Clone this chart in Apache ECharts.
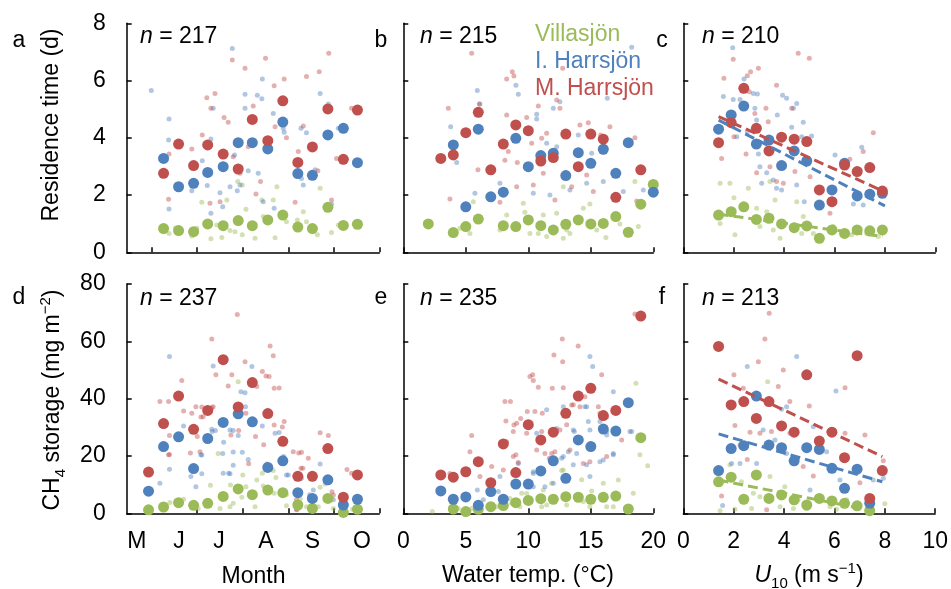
<!DOCTYPE html>
<html>
<head>
<meta charset="utf-8">
<script src="https://cdn.jsdelivr.net/npm/echarts@6/dist/echarts.min.js"></script>
<style>
  html, body { margin: 0; padding: 0; background: #fff; }
  #chart { width: 951px; height: 589px; }
</style>
</head>
<body>
<div id="chart"></div>
<script>
// ---- axis values ----
const monthTicks = [6, 7, 8, 9, 10, 11]
const monthNames = ['M', 'J', 'J', 'A', 'S', 'O']
const monthNamePos = [5.67, 6.6, 7.48, 8.51, 9.53, 10.62]

// bin centres
const monthBins = [5.93, 6.26, 6.59, 6.92, 7.23, 7.57, 7.90, 8.21, 8.55, 8.88, 9.21, 9.53, 9.87, 10.21, 10.52]
const windBins = [1.4, 1.9, 2.4, 2.9, 3.4, 3.9, 4.4, 4.9, 5.4, 5.9, 6.4, 6.9, 7.4, 7.9]

// ---- a: residence time vs month (bin means, from 2nd bin) ----
const aVil = [0.83, 0.76, 0.72, 0.99, 0.93, 1.11, 0.93, 1.13, 1.30, 0.88, 0.83, 1.57, 0.94, 0.98]
const aIHa = [3.28, 2.29, 2.41, 2.79, 2.99, 3.83, 3.83, 3.61, 4.55, 2.75, 2.69, 4.10, 4.33, 3.13]
const aMHa = [2.76, 3.78, 3.03, 3.75, 3.43, 2.91, 4.64, 3.90, 5.29, 3.14, 3.68, 5.01, 3.25, 4.97]
const aVilRaw = [[6.22, 0.9], [6.38, 0.66], [6.52, 0.85], [6.88, 0.57], [6.99, 0.84], [7.10, 1.75], [7.30, 0.47], [7.43, 0.95], [7.54, 0.52], [7.65, 1.83], [7.72, 0.76], [7.83, 0.72], [7.89, 2.47], [7.99, 2.35], [7.99, 0.61], [8.07, 1.50], [8.27, 0.49], [8.42, 1.83], [8.45, 1.25], [8.67, 1.83], [8.71, 0.51], [8.75, 2.29], [8.96, 1.07], [9.20, 1.13], [9.33, 1.42], [9.40, 1.07], [9.64, 0.61], [9.70, 2.24], [9.95, 0.69], [10.1, 0.95], [10.45, 1.0]]
const aIHaRaw = [[5.99, 5.65], [6.38, 4.66], [6.37, 3.92], [6.38, 1.51], [6.88, 2.15], [7.11, 3.2], [7.30, 3.96], [7.35, 5.03], [7.22, 2.33], [7.30, 1.36], [7.50, 2.08], [7.56, 1.59], [7.77, 7.12], [7.72, 2.29], [7.82, 3.40], [7.88, 2.15], [7.94, 2.35], [8.05, 5.52], [8.05, 5.03], [8.12, 2.85], [8.34, 2.76], [8.32, 5.49], [8.42, 5.36], [8.43, 6.05], [8.45, 1.77], [8.69, 1.54], [8.67, 4.85], [8.89, 4.33], [8.91, 4.19], [9.28, 4.33], [9.29, 2.58], [9.40, 4.18], [9.33, 2.35], [9.59, 2.88], [9.70, 5.55], [9.88, 5.18], [9.95, 1.68], [10.1, 4.33]]
const aMHaRaw = [[6.38, 3.43], [6.37, 1.85], [6.88, 3.61], [7.11, 4.10], [7.21, 5.40], [7.39, 5.55], [7.30, 5.03], [7.59, 4.71], [7.68, 4.54], [7.77, 6.72], [7.79, 3.34], [8.05, 6.43], [8.12, 3.69], [8.23, 5.11], [8.29, 2.04], [8.39, 2.47], [8.50, 6.78], [8.56, 3.98], [8.69, 5.82], [8.71, 4.39], [8.91, 6.05], [8.96, 4.0], [9.15, 1.75], [9.22, 3.52], [9.33, 4.41], [9.40, 6.14], [9.68, 6.31], [9.89, 6.95], [9.65, 2.85], [9.95, 1.83], [10.06, 3.28], [10.39, 5.03], [7.50, 1.77], [7.28, 1.71], [7.94, 2.76]]

// ---- b: residence time vs water temp ----
const bVil = [[2, 0.99], [4, 0.69], [5, 0.90], [6, 1.16], [8, 0.93], [9, 0.90], [10, 1.13], [11, 0.93], [12, 0.78], [13, 0.98], [14, 1.13], [15, 0.99], [16, 1.01], [17, 1.25], [18, 0.70], [19, 1.68], [20, 2.37]]
const bIHa = [[4, 3.75], [5, 1.59], [6, 4.30], [7, 1.94], [8, 2.10], [9, 3.98], [10, 2.99], [11, 3.38], [12, 3.46], [13, 2.68], [14, 3.48], [15, 3.11], [16, 3.60], [17, 2.76], [18, 3.83], [20, 2.10]]
const bMHa = [[3, 3.28], [4, 3.40], [5, 4.18], [6, 4.89], [7, 2.88], [8, 3.78], [9, 4.45], [10, 4.25], [11, 3.19], [12, 3.31], [13, 4.13], [14, 2.99], [15, 4.13], [16, 3.95], [17, 1.92], [19, 2.88]]
const bVilRaw = [[4.53, 0.84], [5.33, 0.66], [5.6, 1.77], [7.73, 0.78], [8.27, 1.30], [9.6, 1.71], [9.73, 1.40], [10.13, 0.66], [10.8, 0.66], [11.2, 1.30], [11.47, 0.55], [12.27, 1.36], [12.8, 2.29], [13.07, 0.78], [13.33, 0.66], [14.4, 1.54], [14.93, 1.69], [15.47, 0.78], [16.21, 0.52], [17.33, 0.99], [18.53, 2.47], [18.8, 0.90], [12.8, 0.49]]
const bIHaRaw = [[5.92, 5.65], [6.13, 5.18], [3.79, 4.39], [4.27, 3.14], [5.73, 2.06], [7.73, 2.41], [9.01, 5.84], [9.2, 5.52], [10.67, 4.82], [10.67, 4.66], [12.0, 5.03], [12.53, 5.26], [14.0, 4.10], [16.32, 5.38], [18.27, 7.16], [15.07, 3.46], [17.6, 2.12], [19.2, 2.18], [13.33, 2.18], [10.4, 2.06], [11.73, 2.0], [14.67, 2.41], [16.0, 2.47], [12.27, 3.69], [11.47, 3.81]]
const bMHaRaw = [[5.47, 6.95], [3.6, 5.03], [3.73, 1.86], [6.08, 5.18], [5.97, 2.88], [8.27, 6.05], [8.72, 6.31], [8.85, 6.16], [8.27, 4.80], [8.40, 3.52], [9.87, 4.71], [10.27, 3.81], [10.8, 5.11], [11.07, 3.98], [11.47, 4.16], [12.75, 6.43], [12.27, 5.32], [12.53, 5.03], [14.13, 4.45], [14.8, 4.53], [15.79, 4.10], [16.53, 4.39], [18.53, 4.0], [10.4, 2.35], [9.07, 2.29], [11.2, 2.76], [12.13, 1.83], [13.47, 2.29], [15.2, 2.12], [18.67, 1.79], [7.73, 1.75], [8.13, 3.22], [9.12, 3.14], [14.67, 2.70]]

// ---- c: residence time vs U10 ----
const cVil = [1.30, 1.42, 1.59, 1.15, 1.19, 0.99, 0.86, 0.92, 0.49, 0.78, 0.66, 0.78, 0.75, 0.78]
const cIHa = [4.30, 4.80, 5.11, 3.78, 3.92, 3.03, 3.54, 3.19, 1.65, 2.18, 3.11, 1.97, 2.03, 2.06]
const cMHa = [3.83, 4.53, 5.73, 4.33, 3.54, 4.02, 3.95, 3.87, 2.18, 1.77, 3.05, 2.82, 2.96, 2.14]
const cFitVil = [[1.4, 1.33], [7.9, 0.55]]
const cFitIHa = [[1.4, 4.62], [8.0, 1.62]]
const cFitMHa = [[1.4, 4.74], [7.9, 2.15]]
const cVilRaw = [[1.46, 2.41], [1.85, 2.41], [2.01, 1.91], [2.58, 2.24], [2.91, 1.54], [3.31, 1.42], [3.44, 2.47], [3.64, 1.83], [2.05, 0.61], [1.46, 1.01], [3.04, 0.90], [3.57, 0.78], [3.84, 0.49], [4.50, 1.77], [4.76, 1.25], [4.70, 0.66], [5.16, 0.66], [5.95, 0.90], [6.68, 0.61], [7.28, 0.66], [7.74, 0.55]]
const cIHaRaw = [[1.96, 7.15], [1.59, 5.44], [1.98, 5.34], [2.25, 5.34], [2.41, 6.05], [2.78, 5.55], [2.94, 5.53], [2.84, 5.03], [2.91, 4.62], [2.98, 3.43], [3.31, 2.78], [3.11, 2.41], [3.57, 2.53], [3.73, 4.80], [3.94, 5.49], [4.10, 5.38], [4.30, 4.37], [4.37, 5.03], [4.50, 5.20], [4.70, 4.04], [4.76, 4.54], [5.09, 4.06], [4.50, 2.35], [4.80, 1.77], [6.02, 3.40], [7.08, 3.67], [6.75, 1.69], [7.14, 1.65], [2.12, 4.04], [2.54, 4.21], [3.70, 2.24], [3.90, 2.18], [3.04, 2.99]]
const cMHaRaw = [[1.61, 6.08], [1.98, 6.74], [2.54, 6.17], [2.67, 6.31], [2.98, 6.43], [2.62, 5.61], [2.84, 4.85], [3.28, 5.03], [3.37, 4.56], [3.70, 5.84], [4.30, 5.03], [4.56, 6.95], [5.00, 6.78], [2.49, 3.43], [2.91, 2.78], [1.52, 3.28], [2.01, 4.04], [3.70, 2.47], [3.97, 2.41], [4.43, 2.82], [5.03, 2.64], [5.82, 1.36], [6.61, 3.25], [7.14, 3.52], [7.54, 4.18], [7.01, 2.88], [3.44, 2.99]]

// ---- d: CH4 storage vs month ----
const dVil = [1.2, 2.2, 3.7, 2.8, 3.5, 5.9, 8.5, 6.5, 8.1, 7.2, 2.9, 1.7, 5.2, 0.3, 1.4]
const dIHa = [7.7, 23.3, 26.7, 15.6, 26.1, 31.7, 34.7, 31.9, 16.0, 18.3, 7.2, 5.2, 11.7, 2.9, 4.9]
const dMHa = [14.4, 31.3, 40.9, 29.3, 35.9, 53.6, 37.1, 45.6, 34.8, 25.1, 12.9, 12.9, 22.6, 5.6, 13.4]
const dVilRaw = [[6.40, 3.8], [6.70, 4.9], [7.02, 1.7], [7.24, 4.4], [7.46, 20.9], [7.50, 1.7], [7.72, 2.3], [7.79, 3.5], [7.90, 45.9], [7.98, 5.6], [8.07, 9.3], [8.27, 2.3], [8.31, 11.6], [8.45, 9.5], [8.67, 14.9], [8.69, 7.0], [8.96, 2.6], [9.26, 5.2], [9.40, 2.3], [9.66, 2.3], [9.70, 9.1], [9.99, 1.7], [10.41, 1.4], [7.29, 9.8], [7.73, 9.9], [8.0, 13.4], [8.43, 14.0], [8.73, 12.5], [8.96, 6.6], [9.47, 5.5], [9.81, 10.2]]
const dIHaRaw = [[6.39, 54.7], [6.70, 30.5], [6.39, 15.4], [6.18, 10.5], [6.86, 12.8], [7.08, 20.4], [7.33, 28.5], [7.35, 51.4], [7.72, 29.1], [7.79, 21.4], [7.96, 42.4], [8.05, 42.1], [8.06, 37.2], [8.12, 18.8], [8.20, 51.2], [8.53, 17.2], [8.71, 27.9], [8.96, 13.4], [9.29, 12.2], [9.70, 17.2], [9.55, 8.1], [9.99, 4.7], [7.57, 14.0], [7.69, 14.0], [7.32, 29.3], [6.97, 9.3], [7.10, 13.8], [7.10, 20.3], [7.40, 28.9], [7.58, 24.8], [7.79, 28.9], [7.90, 27.1], [7.56, 20.9], [7.79, 16.8], [7.72, 13.8], [7.99, 21.3], [8.43, 30.5], [8.80, 28.2], [8.90, 19.8], [9.0, 13.4], [9.47, 6.5]]
const dMHaRaw = [[6.18, 39.0], [6.37, 39.0], [6.66, 46.3], [6.70, 35.7], [6.88, 34.9], [6.97, 37.2], [7.13, 33.7], [7.32, 60.8], [7.35, 37.2], [7.41, 48.3], [7.68, 44.4], [7.76, 48.3], [7.88, 69.4], [8.05, 52.9], [8.07, 34.9], [8.31, 44.2], [8.51, 47.9], [8.60, 58.4], [8.67, 55.0], [8.69, 43.6], [8.69, 30.8], [8.91, 32.0], [9.11, 21.5], [9.29, 21.3], [9.44, 19.2], [9.70, 28.1], [9.88, 27.1], [10.39, 14.0], [6.37, 20.4], [7.06, 21.5], [7.74, 27.3], [9.32, 15.7], [9.18, 4.7], [9.99, 6.4], [9.18, 1.2], [7.10, 37.1], [7.32, 36.8], [7.08, 33.6], [8.43, 49.5], [8.58, 47.7], [8.80, 43.7], [6.39, 27.1], [6.85, 21.0], [7.0, 26.8], [7.91, 28.9], [8.13, 17.3], [8.28, 26.8], [8.46, 23.9], [8.87, 30.1], [9.23, 21.0], [9.28, 15.7], [9.26, 12.6], [10.29, 15.3], [9.96, 7.5], [9.19, 1.4], [6.39, 20.5]]

// ---- e: CH4 storage vs water temp ----
const eVil = [[4, 1.5], [5, 0.6], [6, 1.4], [7, 2.3], [8, 2.7], [9, 3.7], [10, 4.5], [11, 5.1], [12, 4.9], [13, 5.8], [14, 5.6], [15, 4.9], [16, 5.6], [17, 6.0], [18, 1.5], [19, 26.4]]
const eIHa = [[3, 7.8], [4, 4.9], [5, 5.7], [6, 2.8], [7, 7.6], [8, 4.9], [9, 10.2], [10, 10.2], [11, 14.8], [12, 18.3], [13, 12.2], [14, 25.6], [15, 23.3], [16, 29.4], [17, 28.7], [18, 38.6]]
const eMHa = [[3, 13.4], [4, 12.6], [5, 14.5], [6, 18.0], [7, 10.7], [8, 24.2], [9, 14.2], [10, 30.9], [11, 25.6], [12, 28.3], [13, 34.9], [14, 40.9], [15, 43.6], [16, 34.1], [17, 35.9], [19, 68.8]]
const eVilRaw = [[2.32, 0.6], [4.4, 1.7], [5.47, 1.7], [8.67, 3.5], [9.47, 7.0], [11.2, 8.1], [11.07, 2.3], [11.87, 10.5], [12.8, 15.1], [14.4, 4.1], [16.27, 2.3], [17.2, 11.6], [18.4, 7.0], [18.61, 45.4], [18.93, 20.4], [19.55, 16.6], [14.93, 2.3], [16.0, 10.5], [14.27, 11.7], [15.07, 7.8], [12.67, 14.9], [11.47, 2.9], [9.87, 6.9], [9.33, 2.3], [8.53, 5.2], [7.47, 2.3], [4.93, 1.5], [13.07, 2.9], [16.8, 2.3]]
const eIHaRaw = [[5.92, 8.1], [9.2, 17.4], [10.4, 14.5], [10.67, 27.9], [11.47, 36.1], [12.8, 37.2], [13.68, 28.5], [14.67, 37.2], [14.93, 54.7], [15.15, 51.2], [16.27, 28.5], [16.8, 42.4], [16.8, 20.9], [18.27, 28.5], [13.87, 20.9], [14.93, 12.8], [16.0, 18.6], [10.4, 9.3], [7.73, 12.8], [12.8, 19.8], [12.27, 29.6], [13.6, 29.1], [14.8, 32.0], [14.93, 29.1], [15.73, 32.0], [16.27, 27.3], [18.13, 28.5], [15.2, 24.0], [13.2, 21.5], [12.67, 19.2], [13.6, 16.9], [14.67, 16.9], [15.73, 18.0], [16.8, 20.4], [11.33, 9.3], [12.0, 10.5], [10.4, 13.9], [7.6, 7.6], [6.4, 4.7], [14.53, 37.2]]
const eMHaRaw = [[5.47, 27.1], [5.33, 21.5], [8.13, 39.0], [8.21, 32.2], [8.85, 30.8], [9.01, 20.4], [9.39, 33.1], [9.87, 27.9], [10.13, 47.7], [10.35, 48.3], [10.4, 46.3], [11.12, 34.9], [11.33, 20.9], [11.92, 43.6], [12.8, 43.8], [12.72, 60.8], [12.05, 55.2], [12.75, 52.9], [13.47, 37.8], [13.99, 58.4], [14.53, 40.7], [14.93, 18.0], [15.6, 37.2], [15.87, 48.3], [17.47, 25.6], [18.53, 69.5], [7.07, 16.3], [10.67, 22.1], [11.07, 28.5], [13.33, 22.1], [14.4, 17.4], [16.27, 19.8], [10.8, 44.0], [9.92, 35.5], [10.53, 35.5], [9.07, 31.4], [8.8, 28.5], [8.27, 25.0], [8.8, 19.8], [9.2, 17.7], [8.0, 15.1], [6.13, 12.8], [3.73, 13.9], [11.87, 20.9], [11.68, 19.2], [12.13, 21.5], [12.53, 29.1], [13.07, 30.9], [13.6, 37.9], [14.13, 37.2], [15.73, 34.9], [16.27, 33.7], [8.57, 39.0]]

// ---- f: CH4 storage vs U10 ----
const fVil = [11.0, 12.6, 4.9, 13.4, 5.2, 6.4, 4.7, 2.9, 5.2, 4.3, 3.5, 2.6, 0.9]
const fIHa = [14.9, 22.6, 23.6, 40.9, 23.8, 22.9, 18.3, 22.9, 22.3, 15.7, 8.7, 15.4, 3.5]
const fMHa = [58.2, 37.8, 39.0, 33.1, 39.0, 30.5, 28.3, 48.3, 25.2, 28.3, 19.4, 55.0, 5.2, 14.9]
const fFitVil = [[1.4, 11.6], [7.5, 0.9]]
const fFitIHa = [[1.4, 27.7], [7.9, 11.0]]
const fFitMHa = [[1.4, 46.8], [7.9, 19.8]]
const fVilRaw = [[3.35, 45.9], [1.85, 16.9], [2.31, 11.0], [3.44, 12.8], [4.03, 9.3], [2.78, 7.0], [3.04, 5.8], [4.56, 4.7], [5.82, 2.3], [6.08, 1.4], [6.48, 4.7], [1.46, 0.9], [2.05, 1.4], [3.84, 2.3], [4.37, 1.7], [4.89, 1.7], [8.0, 3.3], [2.71, 1.7]]
const fIHaRaw = [[2.54, 51.2], [4.50, 54.7], [6.06, 42.7], [4.10, 37.2], [3.90, 36.3], [1.92, 17.4], [2.25, 17.4], [2.91, 17.4], [3.17, 29.1], [3.64, 25.6], [4.10, 20.9], [5.16, 30.2], [5.69, 21.5], [7.54, 11.6], [7.94, 12.2], [1.56, 2.7], [2.98, 12.8], [5.03, 8.1], [6.22, 11.6]]
const fMHaRaw = [[3.41, 69.8], [3.24, 60.8], [2.01, 48.3], [2.98, 52.9], [3.97, 50.0], [3.77, 44.2], [2.38, 43.6], [4.23, 39.0], [5.0, 37.4], [6.42, 43.8], [7.21, 27.3], [2.05, 30.6], [2.65, 28.3], [3.04, 27.9], [3.5, 28.5], [4.23, 27.9], [6.42, 27.9], [4.76, 16.3], [5.16, 13.0], [7.01, 10.7], [7.94, 18.3], [1.52, 6.0], [3.31, 1.2], [2.54, 18.8], [2.25, 23.8]]

const nLabels = ['217', '215', '210', '237', '235', '213']
const panelLetters = ['a', 'b', 'c', 'd', 'e', 'f']
const lakeNames = ['Villasjön', 'I. Harrsjön', 'M. Harrsjön']

// ---- styling ----
const FONT = "'Liberation Sans', Arial, Helvetica, sans-serif"
const FS = 23
const GREEN = '#9BBB59'
const BLUE = '#4F81BD'
const RED = '#C0504D'

const zip = (xs, ys) => ys.map((y, i) => [xs[i], y])

const grids = [
  { left: 126.7, top: 23.3, width: 252.6, height: 229 },
  { left: 403.3, top: 23.3, width: 250, height: 229 },
  { left: 683.3, top: 23.3, width: 252, height: 229 },
  { left: 126.7, top: 284, width: 252.6, height: 229.3 },
  { left: 403.3, top: 284, width: 250, height: 229.3 },
  { left: 683.3, top: 284, width: 252, height: 229.3 }
]

const lineStyle = { color: '#000', width: 1.5 }

function xAxisFor (i, kind, showLabel) {
  const axis = {
    type: 'value',
    gridIndex: i,
    axisLine: { show: true, onZero: false, lineStyle },
    axisTick: { show: true, inside: true, length: 5, lineStyle },
    splitLine: { show: false },
    axisLabel: { show: showLabel, color: '#000', fontSize: FS, fontFamily: FONT, margin: 17 }
  }
  if (kind === 'month') {
    axis.min = 5.45
    axis.max = 11
    axis.axisTick.customValues = monthTicks
    axis.axisLabel.customValues = monthNamePos
    axis.axisLabel.formatter = (v) => {
      let best = 0
      monthNamePos.forEach((p, k) => { if (Math.abs(p - v) < Math.abs(monthNamePos[best] - v)) best = k })
      return monthNames[best]
    }
  } else if (kind === 'temp') {
    axis.min = 0
    axis.max = 20
    axis.interval = 5
  } else {
    axis.min = 0
    axis.max = 10
    axis.interval = 2
  }
  return axis
}

function yAxisFor (i, top, showLabel) {
  return {
    type: 'value',
    gridIndex: i,
    min: 0,
    max: top ? 8 : 80,
    interval: top ? 2 : 20,
    axisLine: { show: true, onZero: false, lineStyle },
    axisTick: { show: true, inside: true, length: 5, lineStyle },
    splitLine: { show: false },
    axisLabel: { show: showLabel, color: '#000', fontSize: FS, fontFamily: FONT, margin: 21 }
  }
}

function dots (i, data, color, size, opacity) {
  return {
    type: 'scatter',
    xAxisIndex: i,
    yAxisIndex: i,
    data,
    symbol: 'circle',
    symbolSize: size,
    itemStyle: { color, opacity },
    silent: true
  }
}

function fit (i, data, color) {
  return {
    type: 'line',
    xAxisIndex: i,
    yAxisIndex: i,
    data,
    symbol: 'none',
    silent: true,
    lineStyle: { color, width: 3, type: [10, 5] },
    z: 3
  }
}

// raw + means per panel, drawn green, blue, red
const panelData = [
  [aVilRaw, aIHaRaw, aMHaRaw, zip(monthBins.slice(1), aVil), zip(monthBins.slice(1), aIHa), zip(monthBins.slice(1), aMHa)],
  [bVilRaw, bIHaRaw, bMHaRaw, bVil, bIHa, bMHa],
  [cVilRaw, cIHaRaw, cMHaRaw, zip(windBins, cVil), zip(windBins, cIHa), zip(windBins, cMHa)],
  [dVilRaw, dIHaRaw, dMHaRaw, zip(monthBins, dVil), zip(monthBins, dIHa), zip(monthBins, dMHa)],
  [eVilRaw, eIHaRaw, eMHaRaw, eVil, eIHa, eMHa],
  [fVilRaw, fIHaRaw, fMHaRaw, zip(windBins, fVil), zip(windBins, fIHa), zip(windBins, fMHa)]
]
const colors = [GREEN, BLUE, RED]

const series = []
panelData.forEach((d, i) => {
  for (let k = 0; k < 3; k++) series.push(dots(i, d[k], colors[k], 5, 0.45))
  for (let k = 0; k < 3; k++) series.push(dots(i, d[k + 3], colors[k], 11, 1))
})
series.push(fit(2, cFitVil, GREEN), fit(2, cFitIHa, BLUE), fit(2, cFitMHa, RED))
series.push(fit(5, fFitVil, GREEN), fit(5, fFitIHa, BLUE), fit(5, fFitMHa, RED))

// ---- text ----
const rich = {
  t: { fontSize: FS, fontFamily: FONT, lineHeight: 30, fill: '#000' },
  i: { fontSize: FS, fontFamily: FONT, fontStyle: 'italic', lineHeight: 30, fill: '#000' },
  s: { fontSize: 15, fontFamily: FONT, verticalAlign: 'bottom', lineHeight: 16, fill: '#000' },
  p: { fontSize: 15, fontFamily: FONT, verticalAlign: 'top', lineHeight: 16, fill: '#000' }
}

function txt (x, y, text, opts) {
  return {
    type: 'text',
    x,
    y,
    silent: true,
    style: Object.assign({ text, fontSize: FS, fontFamily: FONT, fill: '#000', align: 'center', verticalAlign: 'middle', rich }, opts || {})
  }
}

const letterPos = [[19, 41], [381, 41], [662, 41], [19, 298], [381, 298], [662, 298]]
const nPos = [[140, 37], [420, 37], [702, 37], [140, 299], [420, 299], [702, 299]]

const graphics = []
panelLetters.forEach((l, i) => graphics.push(txt(letterPos[i][0], letterPos[i][1], l)))
nLabels.forEach((n, i) => graphics.push(txt(nPos[i][0], nPos[i][1], '{i|n}{t| = ' + n + '}', { align: 'left' })))
lakeNames.forEach((name, k) => graphics.push(txt(535, 35 + k * 27, name, { align: 'left', fill: colors[k] })))

graphics.push(txt(253.5, 577, 'Month'))
graphics.push(txt(528, 576, 'Water temp. (°C)'))
graphics.push(txt(809, 576, '{i|U}{s|10}{t| (m s}{p|−1}{t|)}'))

const yTitle1 = txt(52, 125, 'Residence time (d)')
yTitle1.rotation = Math.PI / 2
const yTitle2 = txt(53, 400, '{t|CH}{s|4}{t| storage (mg m}{p|−2}{t|)}')
yTitle2.rotation = Math.PI / 2
graphics.push(yTitle1, yTitle2)

const option = {
  animation: false,
  backgroundColor: '#fff',
  grid: grids,
  xAxis: [
    xAxisFor(0, 'month', false),
    xAxisFor(1, 'temp', false),
    xAxisFor(2, 'wind', false),
    xAxisFor(3, 'month', true),
    xAxisFor(4, 'temp', true),
    xAxisFor(5, 'wind', true)
  ],
  yAxis: [
    yAxisFor(0, true, true),
    yAxisFor(1, true, false),
    yAxisFor(2, true, false),
    yAxisFor(3, false, true),
    yAxisFor(4, false, false),
    yAxisFor(5, false, false)
  ],
  series,
  graphic: graphics
}

const myChart = echarts.init(document.getElementById('chart'), null, { renderer: 'canvas' })
myChart.setOption(option)
</script>
</body>
</html>
